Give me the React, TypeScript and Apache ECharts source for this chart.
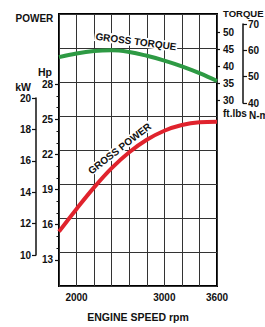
import React, { useEffect, useRef } from "react";
import * as echarts from "echarts";

const rpm = [1800, 2000, 2200, 2400, 2600, 2800, 3000, 3200, 3400, 3600];
const powerHp = [14.8, 16.8, 18.7, 20.4, 21.8, 22.9, 23.7, 24.2, 24.45, 24.5];
const torqueFtLbs = [42.6, 43.7, 44.4, 44.6, 44.1, 43.0, 41.6, 39.9, 37.9, 35.6];
const xTickLabels = [2000, 3000, 3600];
const hpTicks = [13, 16, 19, 22, 25, 28];
const kwTicks = [10, 12, 14, 16, 18, 20];
const ftLbsTicks = [30, 35, 40, 45, 50];
const nmTicks = [40, 50, 60, 70];

const FONT = "'Liberation Sans', Arial, sans-serif";
const INK = "#111";

export default function App() {
  const ref = useRef<HTMLDivElement>(null);
  useEffect(() => {
    if (!ref.current) return;
    const chart = echarts.init(ref.current, null, { renderer: "svg" });
    const label = (margin: number, extra: any = {}) => ({
      color: INK,
      fontFamily: FONT,
      fontWeight: "bold",
      fontSize: 10,
      margin,
      ...extra,
    });
    const hidX = (gridIndex: number) => ({
      type: "value",
      gridIndex,
      min: 1800,
      max: 3600,
      interval: 200,
      show: false,
    });
    const txt = (text: string, x: number, y: number, opts: any = {}) => ({
      type: "text",
      x,
      y,
      z: 100,
      rotation: opts.rotation || 0,
      style: {
        text,
        fill: INK,
        fontSize: opts.size || 10,
        fontWeight: "bold",
        fontFamily: FONT,
        align: opts.align || "left",
        verticalAlign: "middle",
        ...(opts.bg ? { backgroundColor: "#fff", padding: [0, 1] } : {}),
      },
    });
    chart.setOption({
      animation: false,
      grid: [
        { left: 59, top: 14, width: 158, height: 281, show: true, borderColor: "#000", borderWidth: 2, backgroundColor: "transparent" },
        { left: 59, top: 84.25, width: 158, height: 175.6 },
        { left: 36, top: 98.1, width: 20, height: 157 },
        { left: 59, top: 32, width: 158, height: 68 },
        { left: 200, top: 24, width: 43, height: 79 },
      ],
      xAxis: [
        {
          type: "value",
          gridIndex: 0,
          min: 1800,
          max: 3600,
          interval: 200,
          axisLine: { show: false },
          axisTick: { show: false },
          splitLine: { show: true, lineStyle: { color: "#333", width: 1 } },
          axisLabel: label(6, {
            formatter: (v: number) => (xTickLabels.includes(v) ? String(v) : ""),
          }),
          name: "ENGINE SPEED rpm",
          nameLocation: "middle",
          nameGap: 25,
          nameTextStyle: { color: INK, fontFamily: FONT, fontWeight: "bold", fontSize: 10.5 },
        },
        hidX(1),
        hidX(2),
        hidX(3),
        hidX(4),
      ],
      yAxis: [
        {
          type: "value",
          gridIndex: 0,
          min: 10,
          max: 34,
          interval: 3,
          axisLine: { show: false },
          axisTick: { show: false },
          axisLabel: { show: false },
          splitLine: { show: true, lineStyle: { color: "#333", width: 1 } },
        },
        {
          type: "value",
          gridIndex: 1,
          min: hpTicks[0],
          max: hpTicks[hpTicks.length - 1],
          interval: 3,
          axisLine: { show: false },
          axisTick: { show: true, length: 4, lineStyle: { color: INK, width: 1.2 } },
          minorTick: { show: true, splitNumber: 3, length: 2.5, lineStyle: { color: INK, width: 1 } },
          splitLine: { show: false },
          axisLabel: label(6),
        },
        {
          type: "value",
          gridIndex: 2,
          min: kwTicks[0],
          max: kwTicks[kwTicks.length - 1],
          interval: 2,
          position: "left",
          axisLine: { show: true, lineStyle: { color: INK, width: 1.5 } },
          axisTick: { show: true, length: 4, lineStyle: { color: INK, width: 1.2 } },
          splitLine: { show: false },
          axisLabel: label(5),
        },
        {
          type: "value",
          gridIndex: 3,
          min: ftLbsTicks[0],
          max: ftLbsTicks[ftLbsTicks.length - 1],
          interval: 5,
          position: "right",
          axisLine: { show: false },
          axisTick: { show: true, length: 3, lineStyle: { color: INK, width: 1.2 } },
          splitLine: { show: false },
          axisLabel: label(6),
        },
        {
          type: "value",
          gridIndex: 4,
          min: nmTicks[0],
          max: nmTicks[nmTicks.length - 1],
          interval: 10,
          position: "right",
          axisLine: { show: true, lineStyle: { color: INK, width: 1.5 } },
          axisTick: { show: true, length: 4, lineStyle: { color: INK, width: 1.2 } },
          splitLine: { show: false },
          axisLabel: label(5),
        },
      ],
      series: [
        {
          type: "line",
          name: "GROSS POWER",
          xAxisIndex: 0,
          yAxisIndex: 0,
          data: rpm.map((r, i) => [r, powerHp[i]]),
          smooth: 0.4,
          symbol: "none",
          lineStyle: { color: "#e0232d", width: 4 },
        },
        {
          type: "line",
          name: "GROSS TORQUE",
          xAxisIndex: 3,
          yAxisIndex: 3,
          data: rpm.map((r, i) => [r, torqueFtLbs[i]]),
          smooth: 0.4,
          symbol: "none",
          lineStyle: { color: "#2e9a44", width: 4 },
        },
      ],
      graphic: [
        txt("POWER", 15.5, 18, { size: 10 }),
        txt("Hp", 45, 72, { align: "center", size: 10.5 }),
        txt("kW", 23, 87, { align: "center", size: 10.5 }),
        txt("TORQUE", 223, 13, { size: 9.5 }),
        txt("ft.lbs", 223, 113),
        txt("N-m", 249, 115),
        txt("GROSS TORQUE", 136, 41.5, { align: "center", rotation: -0.13, bg: true }),
        txt("GROSS POWER", 119.5, 148.5, { align: "center", rotation: 0.66, bg: true }),
      ],
    });
    return () => chart.dispose();
  }, []);
  return (
    <div
      ref={ref}
      style={{ position: "absolute", left: 0, top: 0, width: 265, height: 327, background: "#fff" }}
    />
  );
}
